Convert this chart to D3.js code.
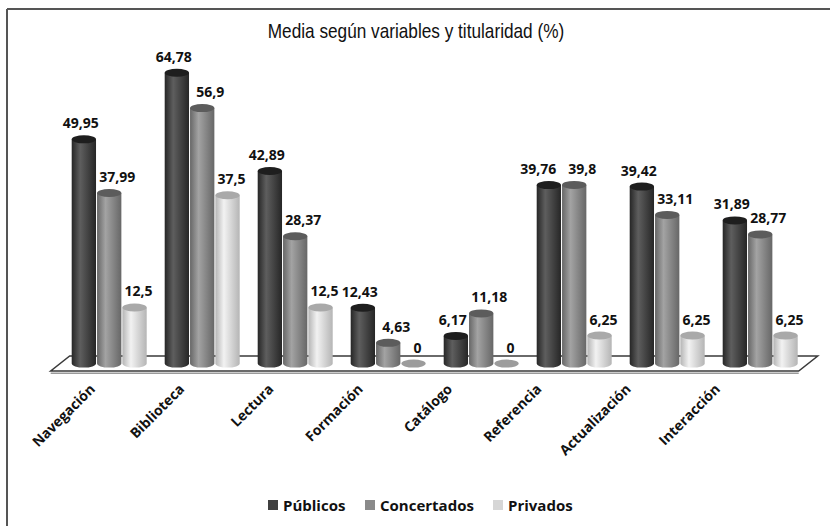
<!DOCTYPE html>
<html>
<head>
<meta charset="utf-8">
<script src="https://cdn.jsdelivr.net/npm/d3@7"></script>
<style>
    body { margin: 0; background: #fff; }
    svg { display: block; }
</style>
</head>
<body>
<svg id="painter" width="830" height="526"></svg>
<script>
const categories = ["Navegación", "Biblioteca", "Lectura", "Formación", "Catálogo", "Referencia", "Actualización", "Interacción"];
const series = ["Públicos", "Concertados", "Privados"];
const publicos = [49.95, 64.78, 42.89, 12.43, 6.17, 39.76, 39.42, 31.89];
const concertados = [37.99, 56.9, 28.37, 4.63, 11.18, 39.8, 33.11, 28.77];
const privados = [12.5, 37.5, 12.5, 0, 0, 6.25, 6.25, 6.25];
const values = [publicos, concertados, privados];

// colours per series: edge, highlight, top
const shades = [
    { edge: "#262626", light: "#5e5e5e", top: "#1e1e1e", key: "#404040" },
    { edge: "#676767", light: "#a3a3a3", top: "#5c5c5c", key: "#8a8a8a" },
    { edge: "#b5b5b5", light: "#f2f2f2", top: "#a9a9a9", key: "#d6d6d6" },
];

const svg = d3.select("#painter");

// frame (only top and left visible)
svg.append("line").attr("x1", 7).attr("y1", 9).attr("x2", 830).attr("y2", 9)
    .attr("stroke", "#555").attr("stroke-width", 2);
svg.append("line").attr("x1", 7).attr("y1", 9).attr("x2", 7).attr("y2", 526)
    .attr("stroke", "#555").attr("stroke-width", 2);

// condensed title
svg.append("text")
    .attr("transform", "translate(416,38) scale(0.82,1)")
    .attr("text-anchor", "middle")
    .attr("font-family", "'Liberation Sans', sans-serif")
    .attr("font-size", 21)
    .attr("fill", "#111")
    .text("Media según variables y titularidad (%)");

const x = d3
    .scaleBand()
    .domain(categories)
    .range([62.7, 806.7])
    .paddingInner(18 / 93)
    .paddingOuter(9 / 93);

const xs = d3
    .scaleBand()
    .domain(series)
    .range([0, x.bandwidth()])
    .paddingInner(0.04);

// category labels sit on the front edge of the floor
const xl = d3.scalePoint().domain(categories).range([96, 721]);

const y = d3.scaleLinear().domain([0, 70]).range([363.6, 49.3]);

const defs = svg.append("defs");
shades.forEach((s, i) => {
    const g = defs.append("linearGradient")
        .attr("id", "cyl" + i)
        .attr("x1", "0%").attr("x2", "100%").attr("y1", "0%").attr("y2", "0%");
    g.append("stop").attr("offset", "0%").attr("stop-color", s.edge);
    g.append("stop").attr("offset", "35%").attr("stop-color", s.light);
    g.append("stop").attr("offset", "100%").attr("stop-color", s.edge);
});

// floor
const depth = 15, skew = 19;
const y0 = y(0);
const fy = y0 + 7.4;
svg.append("path")
    .attr("d", () => {
        const r0 = x.range()[0] - 12, r1 = x.range()[1] - 8;
        return "M" + r0 + "," + fy + "L" + r1 + "," + fy +
            "L" + (r1 + skew) + "," + (fy - depth) + "L" + (r0 + skew) + "," + (fy - depth) + "Z";
    })
    .attr("fill", "#fff")
    .attr("stroke", "#3a3a3a")
    .attr("stroke-width", 1.5);
svg.append("line")
    .attr("x1", x.range()[0] - 12).attr("x2", x.range()[1] - 8)
    .attr("y1", fy + 2.2).attr("y2", fy + 2.2)
    .attr("stroke", "#9a9a9a").attr("stroke-width", 1.5);

const ry = 4;
const bars = [];
categories.forEach((c, ci) => {
    series.forEach((s, si) => {
        bars.push({ cat: c, ci: ci, ser: s, si: si, v: values[si][ci] });
    });
});

const groups = svg
    .selectAll("g.bar")
    .data(bars)
    .enter()
    .append("g")
    .attr("class", "bar")
    .attr("transform", (d) => {
        return "translate(" + (x(d.cat) + xs(d.ser)) + ",0)";
    });

const w = xs.bandwidth();

groups.filter((d) => d.v > 0)
    .append("path")
    .attr("d", (d) => {
        const yt = y(d.v);
        return "M0," + yt + "L0," + y0 +
            "A" + w / 2 + "," + ry + " 0 0 0 " + w + "," + y0 +
            "L" + w + "," + yt + "Z";
    })
    .attr("fill", (d) => "url(#cyl" + d.si + ")");

groups.append("ellipse")
    .attr("cx", w / 2)
    .attr("cy", (d) => y(d.v))
    .attr("rx", w / 2)
    .attr("ry", ry)
    .attr("fill", (d) => {
        return d.v > 0 ? shades[d.si].top : "#9c9c9c";
    });

const labelDx = [-3, 8, 4];
const labels = groups.append("text")
    .attr("x", (d) => w / 2 + labelDx[d.si])
    .attr("y", (d) => y(d.v) - 11)
    .attr("text-anchor", "middle")
    .attr("font-family", "'Open Sans', sans-serif")
    .attr("font-weight", "bold")
    .attr("font-size", 14)
    .attr("fill", "#111")
    .text((d) => String(d.v).replace(".", ","));

// push a label left when it sits level with its right neighbour and runs into it
const nodes = labels.nodes();
for (let i = nodes.length - 2; i >= 0; i--) {
    const a = d3.select(nodes[i]).datum(), b = d3.select(nodes[i + 1]).datum();
    if (a.ci !== b.ci) continue;
    const level = Math.abs(y(a.v) - y(b.v)) < 11;
    const ra = nodes[i].getBoundingClientRect(), rb = nodes[i + 1].getBoundingClientRect();
    const overlapX = ra.right + 12 - rb.left;
    if (level && overlapX > 0) {
        d3.select(nodes[i]).attr("x", +d3.select(nodes[i]).attr("x") - overlapX);
    }
}

// category labels
svg.selectAll("text.cat")
    .data(categories)
    .enter()
    .append("text")
    .attr("class", "cat")
    .attr("text-anchor", "end")
    .attr("font-family", "'Open Sans', sans-serif")
    .attr("font-weight", "bold")
    .attr("font-size", 14)
    .attr("fill", "#111")
    .attr("transform", (d) => {
        return "translate(" + xl(d) + "," + (fy + 19) + ") rotate(-45)";
    })
    .text((d) => d);

// legend
const legend = svg.append("g").attr("transform", "translate(0,505)");
const keyX = [268, 365, 493];
series.forEach((s, i) => {
    legend.append("rect")
        .attr("x", keyX[i]).attr("y", -5)
        .attr("width", 10).attr("height", 10)
        .attr("fill", shades[i].key);
    legend.append("text")
        .attr("x", keyX[i] + 15).attr("y", 5.5)
        .attr("font-family", "'Open Sans', sans-serif")
        .attr("font-weight", "bold")
        .attr("font-size", 15)
        .attr("fill", "#111")
        .text(s);
});
</script>
</body>
</html>
